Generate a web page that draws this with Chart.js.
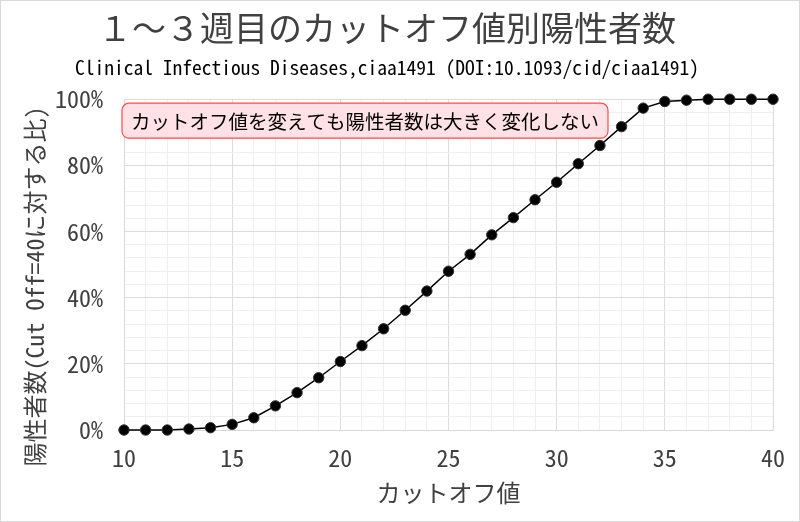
<!DOCTYPE html>
<html>
<head>
<meta charset="utf-8">
<script src="https://cdn.jsdelivr.net/npm/chart.js@4.4.1/dist/chart.umd.min.js"></script>
<style>
  html, body { margin: 0; padding: 0; background: #ffffff; }
  #wrap { position: relative; width: 800px; height: 522px; box-sizing: border-box; border: 1px solid #d9d9d9; background: #fff; }
  canvas { display: block; }
</style>
</head>
<body>
<div id="wrap"><canvas id="c" width="798" height="520"></canvas></div>
<script>
// ---- data ----
const cutoffs = [10,11,12,13,14,15,16,17,18,19,20,21,22,23,24,25,26,27,28,29,30,31,32,33,34,35,36,37,38,39,40];
const ratioPct = [0,0,0,0.3,0.7,1.7,3.7,7.3,11.3,15.8,20.7,25.5,30.6,36.2,42.0,48.0,53.1,59.0,64.2,69.6,74.9,80.5,86.0,91.7,97.3,99.3,99.7,100,100,100,100];
const yTickLabels = [0,20,40,60,80,100];
const xTickLabels = [10,15,20,25,30,35,40];

const titleText = '１～３週目のカットオフ値別陽性者数';
const subtitleText = 'Clinical Infectious Diseases,ciaa1491 (DOI:10.1093/cid/ciaa1491)';
const xTitle = 'カットオフ値';
const yTitle = '陽性者数(Cut Off=40に対する比)';
const noteText = 'カットオフ値を変えても陽性者数は大きく変化しない';

const CJK = "'Noto Sans CJK JP', 'Noto Sans', sans-serif";
const MONO = "'Noto Sans Mono CJK JP', 'Noto Sans CJK JP', 'DejaVu Sans Mono', monospace";

const points = cutoffs.map((x, i) => ({ x: x, y: ratioPct[i] }));

const overlayPlugin = {
  id: 'overlay',
  afterDraw(chart) {
    const ctx = chart.ctx;
    const a = chart.chartArea;
    // y axis title (rotated)
    ctx.save();
    ctx.fillStyle = '#404040';
    ctx.font = '24px ' + MONO;
    ctx.textAlign = 'center';
    ctx.textBaseline = 'middle';
    ctx.translate(34, (a.top + a.bottom) / 2 + 22);
    ctx.rotate(-Math.PI / 2);
    ctx.fillText(yTitle, 0, 0);
    ctx.restore();

    // note box
    ctx.save();
    ctx.font = '19.5px ' + CJK;
    const tw = ctx.measureText(noteText).width;
    const bx = a.left - 2, by = a.top + 4, bw = tw + 18, bh = 35, r = 7;
    ctx.beginPath();
    ctx.moveTo(bx + r, by);
    ctx.lineTo(bx + bw - r, by);
    ctx.arcTo(bx + bw, by, bx + bw, by + r, r);
    ctx.lineTo(bx + bw, by + bh - r);
    ctx.arcTo(bx + bw, by + bh, bx + bw - r, by + bh, r);
    ctx.lineTo(bx + r, by + bh);
    ctx.arcTo(bx, by + bh, bx, by + bh - r, r);
    ctx.lineTo(bx, by + r);
    ctx.arcTo(bx, by, bx + r, by, r);
    ctx.closePath();
    ctx.fillStyle = '#ffe1e6';
    ctx.fill();
    ctx.lineWidth = 1.2;
    ctx.strokeStyle = '#ff4a4a';
    ctx.stroke();
    ctx.fillStyle = '#000000';
    ctx.textAlign = 'left';
    ctx.textBaseline = 'middle';
    ctx.fillText(noteText, bx + 9, by + bh / 2 + 1);
    ctx.restore();
  }
};

new Chart(document.getElementById('c'), {
  type: 'scatter',
  data: {
    datasets: [{
      data: points,
      showLine: true,
      borderColor: '#000000',
      borderWidth: 1.5,
      backgroundColor: '#000000',
      pointBackgroundColor: '#000000',
      pointBorderColor: '#333333',
      pointBorderWidth: 1,
      pointRadius: 5.2,
      tension: 0,
      clip: false
    }]
  },
  options: {
    responsive: false,
    animation: false,
    devicePixelRatio: 1,
    layout: { padding: { left: 0, right: 26, top: 0, bottom: 0 } },
    plugins: {
      legend: { display: false },
      tooltip: { enabled: false },
      title: {
        display: true,
        text: titleText,
        color: '#404040',
        font: { family: CJK, size: 34, weight: 'normal' },
        padding: { top: 7, bottom: 7 }
      },
      subtitle: {
        display: true,
        text: subtitleText,
        color: '#000000',
        font: { family: MONO, size: 19.5 },
        padding: { top: 0, bottom: 20 }
      }
    },
    scales: {
      x: {
        type: 'linear',
        min: 10, max: 40,
        border: { display: true, color: '#d9d9d9' },
        grid: {
          drawTicks: false,
          color: (c) => (xTickLabels.includes(c.tick.value) ? '#dcdcdc' : '#efefef'),
          lineWidth: 1
        },
        ticks: {
          stepSize: 1,
          autoSkip: false,
          maxRotation: 0,
          padding: 13,
          color: '#404040',
          font: { family: MONO, size: 24 },
          callback: (v) => (xTickLabels.includes(v) ? String(v) : '')
        },
        title: {
          display: true,
          text: xTitle,
          color: '#404040',
          font: { family: CJK, size: 24 },
          padding: { top: 0, bottom: 14 }
        },
        afterFit: (s) => { s.height = 91; }
      },
      y: {
        type: 'linear',
        min: 0, max: 100,
        border: { display: true, color: '#d9d9d9' },
        grid: {
          drawTicks: false,
          color: (c) => (yTickLabels.includes(c.tick.value) ? '#dcdcdc' : '#efefef'),
          lineWidth: 1
        },
        ticks: {
          stepSize: 4,
          autoSkip: false,
          padding: 21,
          color: '#404040',
          font: { family: MONO, size: 24 },
          callback: (v) => (yTickLabels.includes(v) ? v + '%' : '')
        },
        afterFit: (s) => { s.width = 123; }
      }
    }
  },
  plugins: [overlayPlugin]
});
</script>
</body>
</html>
